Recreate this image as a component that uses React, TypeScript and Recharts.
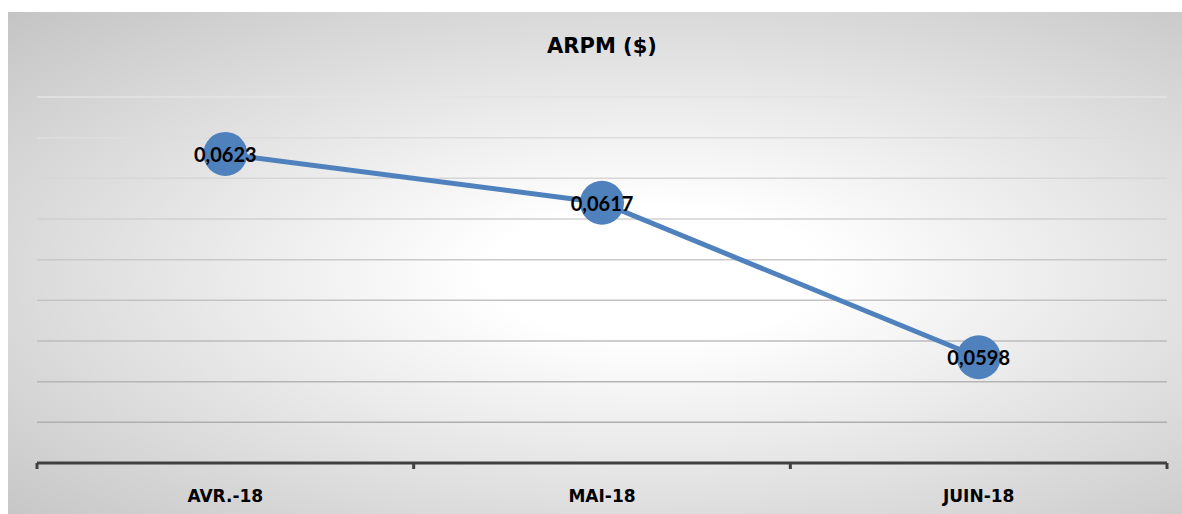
import { LineChart, Line, XAxis, YAxis, CartesianGrid, LabelList } from 'recharts'

const categories = ['AVR.-18', 'MAI-18', 'JUIN-18']
const arpmValues = [0.0623, 0.0617, 0.0598]
const yTicks = [0.0585, 0.059, 0.0595, 0.06, 0.0605, 0.061, 0.0615, 0.062, 0.0625, 0.063]

const data = categories.map((month, i) => ({ month, arpm: arpmValues[i] }))

const LINE_BLUE = '#4f81bd'
const AXIS_DARK = '#404040'

const fmt = (v: number) => v.toFixed(4).replace('.', ',')

function PointLabel(props: any) {
  const { x, y, value } = props
  return (
    <text
      x={x}
      y={y}
      textAnchor="middle"
      dominantBaseline="central"
      fontFamily="Lato, 'DejaVu Sans', sans-serif"
      fontWeight={700}
      fontSize={20}
      fill="#000"
    >
      {fmt(Number(value))}
    </text>
  )
}

// category label plus the tick marks on the band edges (Excel style)
function MonthTick(props: any) {
  const { x, y, payload, index, width, visibleTicksCount } = props
  const band = width / visibleTicksCount
  const left = x - band / 2
  const right = x + band / 2
  return (
    <g>
      <line x1={left} y1={y} x2={left} y2={y + 6} stroke={AXIS_DARK} strokeWidth={3} />
      {index === visibleTicksCount - 1 && (
        <line x1={right} y1={y} x2={right} y2={y + 6} stroke={AXIS_DARK} strokeWidth={3} />
      )}
      <text
        x={x}
        y={y + 39}
        textAnchor="middle"
        fontFamily="'DejaVu Sans', sans-serif"
        fontWeight={700}
        fontSize={17}
        fill="#000"
      >
        {payload.value}
      </text>
    </g>
  )
}

export default function App() {
  return (
    <div
      style={{
        position: 'absolute',
        left: 8,
        top: 12,
        width: 1174,
        height: 502,
        background:
          'radial-gradient(ellipse farthest-corner at 55% 52%, #ffffff 0%, #ffffff 18%, #c4c4c4 100%)',
      }}
    >
      <div
        style={{
          position: 'absolute',
          left: 0,
          right: 0,
          top: 22,
          textAlign: 'center',
          fontFamily: "'DejaVu Sans', sans-serif",
          fontWeight: 700,
          fontSize: 21,
          color: '#000',
          transform: 'translateX(7px)',
        }}
      >
        ARPM ($)
      </div>
      <LineChart
        width={1174}
        height={502}
        data={data}
        margin={{ top: 85, right: 15, bottom: 0, left: 29 }}
      >
        <defs>
          <linearGradient id="gridGrad" gradientUnits="userSpaceOnUse" x1="0" y1="85" x2="0" y2="451">
            <stop offset="0%" stopColor="#e4e4e4" />
            <stop offset="100%" stopColor="#a8a8a8" />
          </linearGradient>
        </defs>
        <CartesianGrid vertical={false} stroke="url(#gridGrad)" strokeWidth={1.5} />
        <XAxis
          dataKey="month"
          scale="band"
          height={51}
          axisLine={{ stroke: AXIS_DARK, strokeWidth: 3 }}
          tickLine={false}
          tickSize={0}
          tickMargin={0}
          tick={<MonthTick />}
          interval={0}
        />
        <YAxis hide domain={[0.0585, 0.063]} ticks={yTicks} />
        <Line
          dataKey="arpm"
          stroke={LINE_BLUE}
          strokeWidth={5}
          dot={{ r: 22, fill: LINE_BLUE, stroke: 'none' }}
          activeDot={false}
          isAnimationActive={false}
        >
          <LabelList dataKey="arpm" content={<PointLabel />} />
        </Line>
      </LineChart>
    </div>
  )
}
